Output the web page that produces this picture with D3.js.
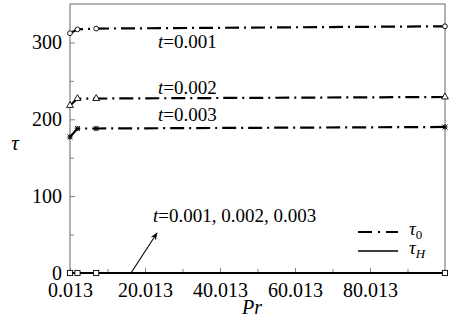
<!DOCTYPE html>
<html>
<head>
<meta charset="utf-8">
<script src="https://cdn.jsdelivr.net/npm/d3@7"></script>
<style>
  html, body { margin: 0; padding: 0; background: #fff; }
  svg { display: block; }
</style>
</head>
<body>
<svg id="chart" width="455" height="324"></svg>
<script>
// Prandtl numbers sampled
const prValues = [0.013, 2, 7, 100];
// Dimensionless temperature tau_0 for each time t
const tau0_t001 = [312, 317, 318, 321];
const tau0_t002 = [218, 227, 227, 229];
const tau0_t003 = [177, 188, 188, 190];
// tau_H stays at zero for all three times
const tauH_t001 = [0, 0, 0, 0];
const tauH_t002 = [0, 0, 0, 0];
const tauH_t003 = [0, 0, 0, 0];
// Axis ticks
const xTicks = [0.013, 20.013, 40.013, 60.013, 80.013];
const xMinorTicks = [10.013, 30.013, 50.013, 70.013, 90.013];
const yTicks = [0, 100, 200, 300];
const yMinorTicks = [50, 150, 250];

const FONT = "'Liberation Serif', 'Times New Roman', Tinos, 'DejaVu Serif', serif";

const svg = d3.select("#chart").style("font-family", FONT);
const margin = { left: 70, right: 10, top: 4, bottom: 51 };
const W = 455, H = 324;
const x = d3.scaleLinear().domain([0.013, 100.013]).range([margin.left, W - margin.right]);
const y = d3.scaleLinear().domain([0, 350]).range([H - margin.bottom, margin.top]);

const frameColor = "#808080";

// Plot frame
svg.append("rect")
  .attr("x", x.range()[0]).attr("y", y.range()[1])
  .attr("width", x.range()[1] - x.range()[0])
  .attr("height", y.range()[0] - y.range()[1])
  .attr("fill", "none").attr("stroke", frameColor).attr("stroke-width", 1.2);

// X axis (ticks point inward)
const xAxis = svg.append("g").attr("transform", `translate(0,${y(0)})`)
  .call(d3.axisBottom(x).tickValues(xTicks).tickSize(-5).tickPadding(10).tickFormat(d3.format(".3f")));
xAxis.attr("font-family", FONT);
xAxis.select(".domain").remove();
xAxis.selectAll(".tick line").attr("stroke", frameColor);
xAxis.selectAll(".tick text").style("font-size", "20px").style("font-family", FONT).attr("fill", "#000").attr("dy", "0.71em");
const xMinor = svg.append("g").attr("transform", `translate(0,${y(0)})`)
  .call(d3.axisBottom(x).tickValues(xMinorTicks).tickSize(-4).tickFormat(""));
xMinor.select(".domain").remove();
xMinor.selectAll(".tick line").attr("stroke", frameColor);

// Y axis (ticks point inward)
const yAxis = svg.append("g").attr("transform", `translate(${x.range()[0]},0)`)
  .call(d3.axisLeft(y).tickValues(yTicks).tickSize(-5).tickPadding(8).tickFormat(d3.format("d")));
yAxis.attr("font-family", FONT);
yAxis.select(".domain").remove();
yAxis.selectAll(".tick line").attr("stroke", frameColor);
yAxis.selectAll(".tick text").style("font-size", "20px").style("font-family", FONT).attr("fill", "#000");
const yMinor = svg.append("g").attr("transform", `translate(${x.range()[0]},0)`)
  .call(d3.axisLeft(y).tickValues(yMinorTicks).tickSize(-4).tickFormat(""));
yMinor.select(".domain").remove();
yMinor.selectAll(".tick line").attr("stroke", frameColor);

// Axis titles
svg.append("text").attr("x", 252).attr("y", 314).attr("text-anchor", "middle")
  .style("font-family", FONT).style("font-size", "20px").style("font-style", "italic").text("Pr");
svg.append("text").attr("x", 15).attr("y", 150).attr("text-anchor", "middle")
  .style("font-family", FONT).style("font-size", "21px").style("font-style", "italic").text("τ");

const line = d3.line().x((d, i) => x(prValues[i])).y(d => y(d));
const dashDot = "14,5,2,5";

// tau_H curves (solid)
[tauH_t001, tauH_t002, tauH_t003].forEach(s => {
  svg.append("path").datum(s).attr("d", line)
    .attr("fill", "none").attr("stroke", "#000").attr("stroke-width", 1.6);
});

// tau_0 curves (dash-dot)
const tau0Series = [
  { values: tau0_t001, marker: "circle" },
  { values: tau0_t002, marker: "triangle" },
  { values: tau0_t003, marker: "star" }
];
tau0Series.forEach(s => {
  svg.append("path").datum(s.values).attr("d", line)
    .attr("fill", "none").attr("stroke", "#000").attr("stroke-width", 2.2)
    .attr("stroke-dasharray", dashDot);
});

// Markers
function drawMarkers(values, kind) {
  const g = svg.append("g");
  values.forEach((v, i) => {
    const cx = x(prValues[i]), cy = y(v);
    if (kind === "circle") {
      g.append("circle").attr("cx", cx).attr("cy", cy).attr("r", 2.4)
        .attr("fill", "#fff").attr("stroke", "#000").attr("stroke-width", 0.9);
    } else if (kind === "triangle") {
      g.append("path").attr("d", d3.symbol(d3.symbolTriangle, 20)())
        .attr("transform", `translate(${cx},${cy})`)
        .attr("fill", "#fff").attr("stroke", "#000").attr("stroke-width", 0.9);
    } else if (kind === "star") {
      g.append("path").attr("d", d3.symbol(d3.symbolTimes, 18)())
        .attr("transform", `translate(${cx},${cy})`)
        .attr("fill", "none").attr("stroke", "#000").attr("stroke-width", 0.9);
      g.append("path").attr("d", d3.symbol(d3.symbolCross, 10)())
        .attr("transform", `translate(${cx},${cy})`)
        .attr("fill", "none").attr("stroke", "#000").attr("stroke-width", 0.7);
    } else if (kind === "square") {
      g.append("rect").attr("x", cx - 2.6).attr("y", cy - 2.6).attr("width", 5.2).attr("height", 5.2)
        .attr("fill", "#fff").attr("stroke", "#000").attr("stroke-width", 0.9);
    }
  });
}
tau0Series.forEach(s => drawMarkers(s.values, s.marker));
drawMarkers(tauH_t001, "square");

// Curve annotations
function tLabel(px, py, rest) {
  const t = svg.append("text").attr("x", px).attr("y", py)
    .style("font-family", FONT).style("font-size", "19px");
  t.append("tspan").style("font-style", "italic").text("t");
  t.append("tspan").text(rest);
}
tLabel(158, 48, "=0.001");
tLabel(158, 94, "=0.002");
tLabel(158, 121, "=0.003");
tLabel(153, 222, "=0.001, 0.002, 0.003");

// Arrow pointing to the tau_H curves
svg.append("defs").append("marker").attr("id", "arrowhead")
  .attr("viewBox", "0 0 10 10").attr("refX", 9).attr("refY", 5)
  .attr("markerWidth", 7).attr("markerHeight", 7).attr("orient", "auto")
  .append("path").attr("d", "M0,1 L10,5 L0,9 L3,5 Z").attr("fill", "#000");
svg.append("line").attr("x1", 131).attr("y1", y(0)).attr("x2", 157).attr("y2", 233)
  .attr("stroke", "#000").attr("stroke-width", 1.1).attr("marker-end", "url(#arrowhead)");

// Legend
const lg = svg.append("g");
lg.append("line").attr("x1", 358).attr("x2", 398).attr("y1", 232).attr("y2", 232)
  .attr("stroke", "#000").attr("stroke-width", 2).attr("stroke-dasharray", "14,6,2,6");
lg.append("line").attr("x1", 358).attr("x2", 398).attr("y1", 251).attr("y2", 251)
  .attr("stroke", "#000").attr("stroke-width", 1.6);
const l0 = lg.append("text").attr("x", 409).attr("y", 235).style("font-family", FONT).style("font-size", "19px");
l0.append("tspan").style("font-style", "italic").text("τ");
l0.append("tspan").attr("dy", 4).style("font-size", "13px").text("0");
const lH = lg.append("text").attr("x", 409).attr("y", 254).style("font-family", FONT).style("font-size", "19px");
lH.append("tspan").style("font-style", "italic").text("τ");
lH.append("tspan").attr("dy", 4).style("font-size", "13px").style("font-style", "italic").text("H");
</script>
</body>
</html>
